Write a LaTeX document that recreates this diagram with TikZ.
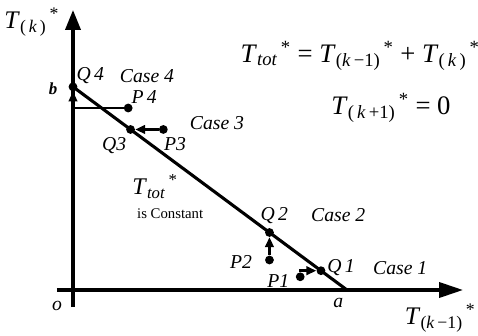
\documentclass[tikz,border=0pt]{standalone}
\usepackage{fontspec}
\setmainfont{Liberation Serif}
\usetikzlibrary{arrows.meta,calc}
\newcommand{\Tv}[1]{\textit{T}\textsubscript{#1}\textsuperscript{\,*}}
\tikzstyle{pt} = [circle, fill=black, minimum size=0.22cm, inner sep=0]
\tikzstyle{lbl} = [font=\fontsize{14}{16}\selectfont\itshape, inner sep=0]
\tikzstyle{mv} = [line width=1.8pt, -{Triangle[length=7pt,width=6pt]}]

\begin{document}
\begin{tikzpicture}
    \useasboundingbox (-1.825,-1.15) rectangle (10.125,7.25);

    % Axes
    \coordinate (o) at (0,0);
    \coordinate (ybot) at (0,-0.43);
    \coordinate (ytop) at (0,7.0);
    \coordinate (xleft) at (-0.4,0);
    \coordinate (xright) at (9.75,0);
    \draw[line width=2.3pt, -{Triangle[length=0.5cm,width=0.38cm]}] (ybot) -- (ytop);
    \draw[line width=2.3pt, -{Triangle[length=0.6cm,width=0.38cm]}] (xleft) -- (xright);
    \node (ylab) at (-1.03,6.7) [font=\fontsize{18}{20}\selectfont] {\Tv{(\,\textit{k}\,)}};
    \node (xlab) at (9.18,-0.7) [font=\fontsize{18}{20}\selectfont] {\Tv{(\textit{k}\,−1)}};
    \node (olab) at (-0.4,-0.4) [lbl] {o};

    % Constant-total line
    \node (b) at (0,5.08) [pt] {};
    \coordinate (a) at (6.85,0);
    \draw[line width=2.2pt] (b.center) -- (a);
    \node (blab) at (-0.5,5.03) [lbl, font=\fontsize{12}{14}\selectfont\bfseries\itshape] {b};
    \node (alab) at (6.63,-0.33) [lbl] {a};

    % Equations
    \node (eq1) at (7.18,5.85) [font=\fontsize{19}{21}\selectfont] {\Tv{\textit{tot}} = \Tv{(\textit{k}\,−1)} + \Tv{(\,\textit{k}\,)}};
    \node (eq2) at (7.95,4.55) [font=\fontsize{19}{21}\selectfont] {\Tv{(\,\textit{k}\,+1)} = 0};
    \node (tot) at (2.05,2.58) [font=\fontsize{17}{19}\selectfont] {\Tv{\textit{tot}}};
    \node (const) at (2.43,1.9) [font=\fontsize{10.5}{12}\selectfont] {is Constant};

    % Case 4
    \node (P4) at (1.38,4.55) [pt] {};
    \draw[line width=1.8pt] (P4) -- (P4 -| o);
    \draw[mv] (P4 -| o) -- (b);
    \node at (0.43,5.35) [lbl] {Q\,4};
    \node at (1.85,5.35) [lbl] {Case 4};
    \node at (1.78,4.83) [lbl] {P\,4};

    % Case 3
    \node (Q3) at ($(b)!0.21!(a)$) [pt] {};
    \node (P3) at ($(Q3)+(0.82,0)$) [pt] {};
    \draw[mv] (P3) -- (Q3);
    \node at (1.03,3.62) [lbl] {Q3};
    \node at (2.55,3.66) [lbl] {P3};
    \node at (3.6,4.18) [lbl] {Case 3};

    % Case 2
    \node (Q2) at ($(b)!0.717!(a)$) [pt] {};
    \node (P2) at (Q2 |- {(0,0.75)}) [pt] {};
    \draw[mv] (P2) -- (Q2);
    \node at (5.03,1.85) [lbl] {Q\,2};
    \node at (6.63,1.88) [lbl] {Case 2};
    \node at (4.2,0.7) [lbl] {P2};

    % Case 1
    \node (Q1) at ($(b)!0.905!(a)$) [pt] {};
    \node (P1) at (5.68,0.33) [pt] {};
    \draw[mv] (P1) |- (Q1);
    \node at (6.7,0.55) [lbl] {Q\,1};
    \node at (8.18,0.55) [lbl] {Case 1};
    \node at (5.13,0.22) [lbl] {P1};
\end{tikzpicture}
\end{document}
